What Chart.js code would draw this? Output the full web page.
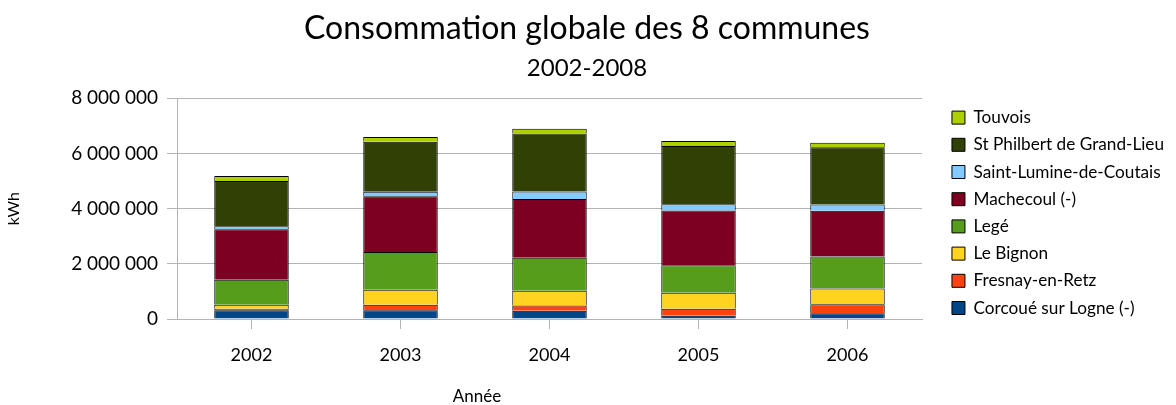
<!DOCTYPE html>
<html>
<head>
<meta charset="utf-8">
<script src="https://cdn.jsdelivr.net/npm/chart.js@4.4.0/dist/chart.umd.min.js"></script>
<style>
  html, body { margin: 0; padding: 0; background: #fff; }
  #wrap { width: 1176px; height: 405px; }
</style>
</head>
<body>
<div id="wrap"><canvas id="chart1"></canvas></div>
<script>
const years = ['2002', '2003', '2004', '2005', '2006'];
const corcoue = [314000, 314000, 300000, 120000, 205000];
const fresnay = [60000, 205000, 190000, 250000, 330000];
const bignon = [145000, 540000, 530000, 580000, 570000];
const lege = [906000, 1365000, 1200000, 1000000, 1160000];
const machecoul = [1825000, 2020000, 2130000, 1980000, 1655000];
const saintLumine = [110000, 170000, 270000, 230000, 230000];
const stPhilbert = [1640000, 1810000, 2100000, 2110000, 2070000];
const touvois = [180000, 170000, 170000, 180000, 170000];
const yTicks = [0, 2000000, 4000000, 6000000, 8000000];

const font = 'Lato';

function serie(label, data, color) {
    return { label: label, data: data, backgroundColor: color, borderColor: '#000', borderWidth: 1 };
}

// titre de l'axe X pas centré dans l'original
const anneeTitle = {
    id: 'anneeTitle',
    afterDraw(chart) {
        const c = chart.ctx;
        c.save();
        c.font = '17px ' + font;
        c.fillStyle = '#000';
        c.textAlign = 'center';
        c.textBaseline = 'middle';
        c.fillText('Année', 477, 397);
        c.restore();
    }
};

const ctx1 = document.getElementById('chart1').getContext('2d');
const myChart1 = new Chart(ctx1, {
    type: 'bar',
    data: {
        labels: years,
        datasets: [
            serie('Corcoué sur Logne (-)', corcoue, '#004586'),
            serie('Fresnay-en-Retz', fresnay, '#ff420e'),
            serie('Le Bignon', bignon, '#ffd320'),
            serie('Legé', lege, '#579d1c'),
            serie('Machecoul (-)', machecoul, '#7e0021'),
            serie('Saint-Lumine-de-Coutais', saintLumine, '#83caff'),
            serie('St Philbert de Grand-Lieu', stPhilbert, '#314004'),
            serie('Touvois', touvois, '#aecf00')
        ]
    },
    options: {
        responsive: true,
        maintainAspectRatio: false,
        animation: false,
        datasets: { bar: { barPercentage: 0.5, categoryPercentage: 1 } },
        layout: { padding: { right: 2 } },
        plugins: {
            title: {
                display: true,
                text: 'Consommation globale des 8 communes',
                color: '#000',
                font: { family: font, size: 32, weight: 'normal' },
                padding: { top: 9, bottom: 0 }
            },
            subtitle: {
                display: true,
                text: '2002-2008',
                color: '#000',
                font: { family: font, size: 24, weight: 'normal' },
                padding: { top: 6, bottom: 16 }
            },
            legend: {
                position: 'right',
                align: 'start',
                reverse: true,
                maxWidth: 260,
                // titre vide pour descendre la légende au niveau du graphique
                title: { display: true, text: ' ', font: { size: 10 }, padding: { top: 87, bottom: 0 } },
                labels: {
                    boxWidth: 13,
                    boxHeight: 13,
                    padding: 10,
                    color: '#000',
                    font: { family: font, size: 17.2 }
                }
            },
            tooltip: { enabled: false }
        },
        scales: {
            x: {
                stacked: true,
                grid: { offset: false, drawOnChartArea: false, color: '#b3b3b3', tickLength: 10 },
                border: { color: '#b3b3b3' },
                ticks: { color: '#000', padding: 15, font: { family: font, size: 18 } },
                afterFit(s) { s.height = 86; }
            },
            y: {
                stacked: true,
                min: 0,
                max: 8000000,
                afterBuildTicks(s) { s.ticks = yTicks.map(v => ({ value: v })); },
                grid: { color: '#b3b3b3', tickLength: 10 },
                border: { color: '#b3b3b3' },
                ticks: {
                    color: '#000',
                    padding: 9,
                    font: { family: font, size: 19 },
                    callback: v => String(v).replace(/\B(?=(\d{3})+(?!\d))/g, ' ')
                },
                title: {
                    display: true,
                    text: 'kWh',
                    color: '#000',
                    font: { family: font, size: 16 },
                    padding: { top: 4, bottom: 0 }
                },
                afterFit(s) { s.width = 177; }
            },
            // espace vide entre le graphique et la légende
            gap: {
                position: 'right',
                display: true,
                grid: { display: false },
                border: { display: false },
                ticks: { display: false },
                afterFit(s) {
                    const lg = s.chart.legend;
                    const w = lg && isFinite(lg.width) ? s.chart.width - 2 - lg.width - 922 : 35;
                    s.width = Math.max(0, w);
                }
            }
        }
    },
    plugins: [anneeTitle]
});
</script>
</body>
</html>
